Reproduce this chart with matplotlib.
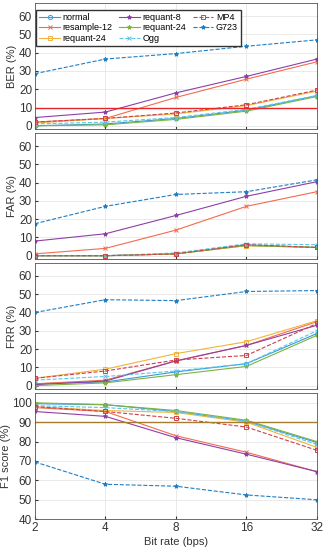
import matplotlib.pyplot as plt

plt.rcParams['font.family'] = ['Liberation Sans', 'DejaVu Sans']

bit_rates = [2, 4, 8, 16, 32]
names = ['normal', 'resample-12', 'requant-24', 'requant-8', 'requant-24', 'Ogg', 'MP4', 'G723']

ber = [
    [0, 1, 4, 8.5, 16.5],
    [2, 4, 15.5, 25.5, 35],
    [1.5, 4, 6.5, 11, 19],
    [4.5, 7.5, 18, 27, 36.5],
    [0, 0.5, 3.5, 8, 16],
    [1, 2, 4.5, 9, 16.5],
    [2, 4, 7, 11.5, 19.5],
    [28.5, 36.5, 39.5, 43.5, 47],
]
far = [
    [0, 0, 1, 6, 4.5],
    [1, 4, 14, 27, 35],
    [0, 0, 1, 5.5, 4.5],
    [8, 12, 22, 32.5, 40.5],
    [0, 0, 1, 5.5, 4.5],
    [0, 0, 1.5, 6.5, 6],
    [0, 0, 1, 6, 4.5],
    [17.5, 27, 33.5, 35, 41.5],
]
frr = [
    [1, 2, 7.5, 12, 28.5],
    [1, 3, 13.5, 22, 35],
    [4, 9, 17.5, 24, 35.5],
    [0.5, 2.5, 13.5, 22, 33],
    [0, 1.5, 6, 10.5, 27.5],
    [3, 5, 8, 12, 30],
    [4, 8, 14, 16.5, 34],
    [40, 47, 46.5, 51.5, 52],
]
f1 = [
    [99.5, 99, 95.5, 90.5, 79.5],
    [97.5, 95.5, 83, 74.5, 64.5],
    [98, 96, 95, 90, 77],
    [95.5, 93, 82, 73.5, 64.5],
    [100, 99, 96, 91, 80],
    [98.5, 97.5, 95.5, 90.5, 78.5],
    [98, 95.5, 92, 87.5, 75.5],
    [69.5, 58, 57, 52.5, 50],
]

colors = ['#3a9ad9', '#f26b4f', '#f0b43c', '#8e3fa6', '#7cb342', '#5bc6ea', '#d0404a', '#1f7fc4']
markers = ['o', 'x', 's', '*', '*', 'x', 's', '*']
styles = ['-', '-', '-', '-', '-', '--', '--', '--']

fig, axes = plt.subplots(4, 1, figsize=(3.26, 5.5), dpi=100, sharex=True)
fig.subplots_adjust(left=0.107, right=0.972, top=0.994, bottom=0.056, hspace=0.03)

panels = [(ber, 'BER (%)', 10, '#e8262a'), (far, 'FAR (%)', None, None),
          (frr, 'FRR (%)', None, None), (f1, 'F1 score (%)', 90, '#a67c2e')]
for ax, (data, label, hline, hcol) in zip(axes, panels):
    for i in range(len(names)):
        mfc = 'none' if markers[i] in ('o', 's') else colors[i]
        ax.plot(bit_rates, data[i], color=colors[i], ls=styles[i], marker=markers[i],
                ms=3, mfc=mfc, lw=0.8, mew=0.7, label=names[i])
    if hline is not None:
        ax.axhline(hline, color=hcol, lw=1.0)
    ax.set_xscale('log', base=2)
    ax.set_xlim(2, 32)
    ax.set_ylabel(label, fontsize=8, color='#333333', labelpad=1)
    ax.grid(True, color='#e6e6e6', lw=0.6)
    ax.tick_params(labelsize=8.5, colors='#333333', length=2, direction='in', pad=2)
    for s in ax.spines.values():
        s.set_color('#555555')
        s.set_linewidth(0.6)
    if hline == 90:
        ax.set_ylim(40, 105)
        ax.set_yticks(range(40, 101, 10))
    else:
        ax.set_ylim(-2, 67)
        ax.set_yticks(range(0, 61, 10))

axes[-1].set_xticks(bit_rates)
axes[-1].set_xticklabels([str(b) for b in bit_rates])
axes[-1].minorticks_off()
axes[-1].set_xlabel('Bit rate (bps)', fontsize=8, color='#333333', labelpad=2)

axes[0].legend(ncol=3, fontsize=6.5, loc='upper left', bbox_to_anchor=(0.004, 0.947),
               frameon=True, fancybox=False, edgecolor='#333333', framealpha=1,
               handlelength=2.3, columnspacing=0.7, handletextpad=0.3, labelspacing=0.15,
               borderpad=0.35, borderaxespad=0.0)

fig.savefig('out.png', dpi=100)
